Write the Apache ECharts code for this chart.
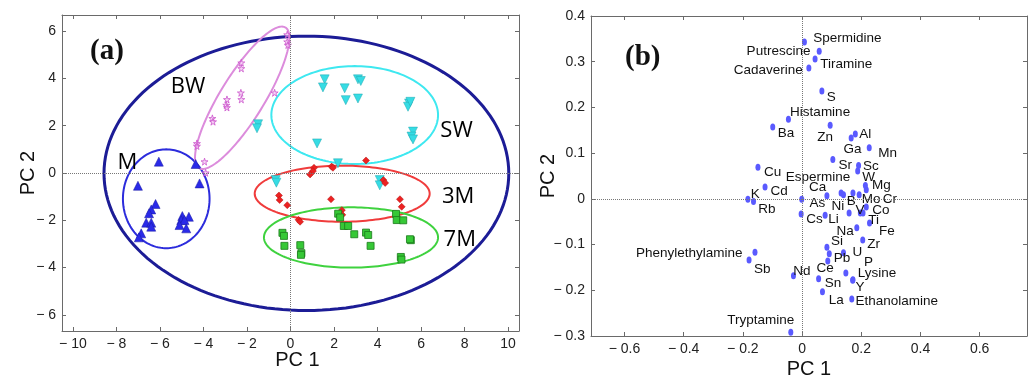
<!DOCTYPE html>
<html>
<head>
<meta charset="utf-8">
<script src="https://cdn.jsdelivr.net/npm/echarts@6/dist/echarts.min.js"></script>
<style>
html, body { margin: 0; padding: 0; background: #fff; }
#main { width: 1031px; height: 378px; }
</style>
</head>
<body>
<div id="main"></div>
<script>
// panel (a) - scores, [PC1, PC2]
var scoresM = [[-6.05,0.48],[-4.36,0.38],[-7.01,-0.54],[-4.18,-0.44],[-6.2,-1.31],[-6.4,-1.54],[-6.5,-1.7],
  [-6.63,-2.1],[-6.4,-2.1],[-6.4,-2.27],[-6.86,-2.55],[-6.97,-2.72],[-4.97,-1.82],[-4.67,-1.85],[-5.02,-1.99],
  [-4.87,-1.99],[-5.1,-2.2],[-4.79,-2.34]];
var scoresBW = [[-0.15,5.85],[-0.15,5.55],[-0.12,5.41],[-2.26,4.66],[-2.26,4.42],[-2.28,3.39],[-2.26,3.11],
  [-2.92,3.11],[-2.95,2.87],[-2.92,2.77],[-3.59,2.31],[-3.56,2.17],[-0.73,3.39],[-4.3,1.25],[-4.3,1.14],
  [-3.95,0.48],[-3.9,0.01]];
var scoresSW = [[1.57,3.96],[1.49,3.62],[2.49,3.58],[2.54,3.08],[3.1,3.96],[3.23,3.89],[3.1,3.15],[5.45,2.94],
  [5.4,2.8],[5.51,3.01],[5.63,1.75],[5.56,1.54],[5.63,1.42],[1.22,1.25],[-1.49,2.06],[-1.54,1.89],[-0.68,-0.3],
  [-0.65,-0.41],[4.1,-0.3],[4.1,-0.52],[2.18,0.41]];
var scores3M = [[3.47,0.53],[1.08,0.22],[1.03,0.08],[0.9,-0.06],[1.89,0.27],[1.95,0.22],[4.27,-0.3],[4.35,-0.42],
  [-0.53,-0.95],[-0.5,-1.14],[-0.15,-1.36],[1.86,-1.11],[5.03,-1.11],[5.11,-1.43],[2.36,-1.57],[2.38,-1.77],
  [0.37,-1.98],[0.44,-2.06]];
var scores7M = [[2.19,-1.72],[2.28,-1.88],[2.45,-2.24],[2.65,-2.24],[2.93,-2.59],[3.47,-2.52],[3.57,-2.62],
  [3.68,-3.08],[4.85,-1.73],[4.88,-1.99],[5.18,-2.0],[5.53,-2.84],[5.49,-2.8],[5.07,-3.55],[5.1,-3.66],
  [-0.37,-2.53],[-0.3,-2.66],[-0.28,-3.08],[0.45,-3.05],[0.5,-3.39],[0.48,-3.46]];

// group ellipses: centre, first and second semi-axis vectors (data units)
var ellipseNames = ['all', 'M', 'BW', 'SW', '3M', '7M'];
var ellipseCx = [0.73, -5.71, -2.22, 2.95, 2.375, 2.78];
var ellipseCy = [-0.015, -1.09, 3.18, 2.45, -0.875, -2.725];
var ellipseU = [[9.3,0],[1.99,0],[1.99,2.97],[3.83,0],[4.02,0],[4.0,0]];
var ellipseV = [[0,5.8],[0,2.09],[0.86,-0.49],[0,2.07],[0,1.185],[0,1.275]];

var groupLabels = ['M', 'BW', 'SW', '3M', '7M'];
var groupLabelX = [-7.5, -4.71, 7.63, 7.7, 7.78];
var groupLabelY = [0.45, 3.65, 1.77, -1.0, -2.83];

var ticksA_x = [-10, -8, -6, -4, -2, 0, 2, 4, 6, 8, 10];
var ticksA_y = [-6, -4, -2, 0, 2, 4, 6];

// panel (b) - loadings
var loadNames = ['Spermidine','Putrescine','Tiramine','Cadaverine','S','Histamine','Ba','Zn','Al','Ga','Mn','Sr',
  'Sc','W','Cu','Espermine','Ca','Cd','K','Rb','As','Cs','Ni','B','Mo','Cr','Mg','V','Ti','Co','Fe','Li','Na','Zr',
  'Si','Pb','U','Ce','P','Lysine','Y','Sn','La','Ethanolamine','Nd','Phenylethylamine','Sb','Tryptamine',''];
var loadPC1 = [0.008,0.058,0.044,0.023,0.067,-0.046,-0.099,0.095,0.180,0.166,0.227,0.104,
  0.191,0.188,-0.149,0.132,0.084,-0.125,-0.183,-0.164,-0.001,-0.003,0.140,0.172,0.193,0.217,0.214,0.159,0.197,0.217,0.228,0.078,0.185,0.205,
  0.084,0.092,0.140,0.087,0.148,0.172,0.171,0.056,0.069,0.168,-0.029,-0.159,-0.179,-0.038,0.206];
var loadPC2 = [0.343,0.323,0.306,0.286,0.236,0.174,0.157,0.161,0.142,0.133,0.112,0.086,
  0.073,0.061,0.069,0.013,0.007,0.026,-0.001,-0.006,-0.001,-0.033,0.009,0.013,0.009,0.020,0.029,-0.031,-0.031,-0.018,-0.053,-0.036,-0.063,-0.090,
  -0.106,-0.120,-0.118,-0.136,-0.162,-0.177,-0.178,-0.175,-0.203,-0.219,-0.168,-0.117,-0.134,-0.292,-0.031];
// where each name sits relative to its dot (px)
var labelDx = [43,-40.7,31.3,-40.7,9.3,31.7,13.3,-5,10,1.3,18.3,12.3,
  12.3,11,14.7,-23,-9.3,14,7.3,13.3,15.7,13.3,-5.7,-1.7,12,23.7,16,11,13.3,14.7,17.3,8.3,-11.7,11,
  10,12.7,14,-2.7,22.7,24,7.3,14.3,13.7,45,8.3,-65.7,13.3,-30,0];
var labelDy = [-4,0,5,2.3,6,-7,6,12,0.7,11.3,6,5.3,
  0.7,6,5,-15.7,-8,4,-4.7,8,4.3,5.7,11.3,8.7,4.7,9.3,-0.7,-3,7.7,3.3,7.7,4,3.3,4.7,
  -6,4.3,-0.7,7.7,-10.7,-6.3,7,4.3,8.3,2.3,-4.3,0.7,9,-11.7,0];

var ticksB_x = [-0.6, -0.4, -0.2, 0, 0.2, 0.4, 0.6];
var ticksB_y = [-0.3, -0.2, -0.1, 0, 0.1, 0.2, 0.3, 0.4];

var ellipseColors = ['#1c1c96', '#2c2cdc', '#dc8cdc', '#3ee8f0', '#f03c3c', '#3fd23f'];
var ellipseWidths = [3, 2, 2, 2, 2, 2];
var starPath = 'path://M50,0 L61,35 L98,35 L68,57 L79,91 L50,70 L21,91 L32,57 L2,35 L39,35 Z';
var sans = '"Liberation Sans", Arial, sans-serif';

function tickFmt(v) {
  v = Math.round(v * 10) / 10;
  return v < 0 ? '\u2212 ' + (-v) : String(v);
}

function renderEllipse(params, api) {
  var cx = api.value(0), cy = api.value(1);
  var ux = api.value(2), uy = api.value(3), vx = api.value(4), vy = api.value(5);
  var pts = [];
  for (var k = 0; k <= 160; k++) {
    var t = k / 160 * Math.PI * 2;
    pts.push(api.coord([cx + ux * Math.cos(t) + vx * Math.sin(t), cy + uy * Math.cos(t) + vy * Math.sin(t)]));
  }
  return {
    type: 'polyline',
    shape: { points: pts },
    style: { stroke: ellipseColors[params.dataIndex], lineWidth: ellipseWidths[params.dataIndex], fill: null }
  };
}

function valueAxis(grid, pos, min, max, ticks, show, extra) {
  var ax = {
    type: 'value', gridIndex: grid, position: pos, min: min, max: max,
    nameMoveOverlap: false,
    axisLine: { show: true, onZero: false, lineStyle: { color: '#6a6a6a', width: 1 } },
    axisTick: { show: true, inside: true, length: 4, customValues: ticks, lineStyle: { color: '#6a6a6a' } },
    axisLabel: { show: show, customValues: ticks, formatter: tickFmt, fontSize: 14, color: '#222',
      fontFamily: sans, margin: 6 },
    splitLine: { show: false }
  };
  for (var key in extra) ax[key] = extra[key];
  return ax;
}

var nameStyle = { fontSize: 20, color: '#111', fontFamily: sans };

var ellipseData = [];
for (var i = 0; i < ellipseNames.length; i++) {
  ellipseData.push([ellipseCx[i], ellipseCy[i], ellipseU[i][0], ellipseU[i][1], ellipseV[i][0], ellipseV[i][1]]);
}
var groupLabelData = groupLabels.map(function (g, i) {
  return { name: g, value: [groupLabelX[i], groupLabelY[i]] };
});
var loadData = loadNames.map(function (n, i) {
  return { name: n, value: [loadPC1[i], loadPC2[i]], label: { offset: [labelDx[i], labelDy[i]] } };
});

var zeroLines = {
  silent: true, symbol: ['none', 'none'], animation: false,
  label: { show: false },
  lineStyle: { type: 'dotted', color: '#777', width: 1 },
  data: [{ xAxis: 0 }, { yAxis: 0 }]
};

var option = {
  animation: false,
  backgroundColor: '#fff',
  grid: [
    { left: 62, top: 15, width: 457, height: 316, outerBoundsMode: 'none' },
    { left: 591, top: 16, width: 436, height: 320, outerBoundsMode: 'none' }
  ],
  xAxis: [
    valueAxis(0, 'bottom', -10.5, 10.5, ticksA_x, true,
      { name: 'PC 1', nameLocation: 'middle', nameGap: 19,
        nameTextStyle: { fontSize: 20, color: '#111', fontFamily: sans, padding: [0, 0, 0, 14] } }),
    valueAxis(0, 'top', -10.5, 10.5, ticksA_x, false, {}),
    valueAxis(1, 'bottom', -0.713, 0.76, ticksB_x, true,
      { name: 'PC 1', nameLocation: 'middle', nameGap: 23, nameTextStyle: nameStyle }),
    valueAxis(1, 'top', -0.713, 0.76, ticksB_x, false, {})
  ],
  yAxis: [
    valueAxis(0, 'left', -6.68, 6.68, ticksA_y, true,
      { name: 'PC 2', nameLocation: 'middle', nameGap: 24, nameTextStyle: nameStyle }),
    valueAxis(0, 'right', -6.68, 6.68, ticksA_y, false, {}),
    valueAxis(1, 'left', -0.3, 0.4, ticksB_y, true,
      { name: 'PC 2', nameLocation: 'middle', nameGap: 33, nameTextStyle: nameStyle }),
    valueAxis(1, 'right', -0.3, 0.4, ticksB_y, false, {})
  ],
  graphic: [
    { type: 'text', left: 90, top: 37, style: { text: '(a)', font: 'bold 29px "Liberation Serif", serif', fill: '#111' } },
    { type: 'text', left: 625, top: 43, style: { text: '(b)', font: 'bold 29px "Liberation Serif", serif', fill: '#111' } }
  ],
  series: [
    { type: 'custom', xAxisIndex: 0, yAxisIndex: 0, z: 1, renderItem: renderEllipse, data: ellipseData,
      markLine: zeroLines },
    { type: 'scatter', xAxisIndex: 0, yAxisIndex: 0, z: 3, data: scoresM, symbol: 'triangle', symbolSize: 9,
      itemStyle: { color: '#2a2ae8', borderColor: '#1818a0', borderWidth: 0.5, opacity: 1 } },
    { type: 'scatter', xAxisIndex: 0, yAxisIndex: 0, z: 3, data: scoresBW, symbol: starPath, symbolSize: 7,
      itemStyle: { color: 'rgba(240,180,240,0.6)', borderColor: '#cc55cc', borderWidth: 0.8, opacity: 1 } },
    { type: 'scatter', xAxisIndex: 0, yAxisIndex: 0, z: 3, data: scoresSW, symbol: 'triangle', symbolRotate: 180,
      symbolSize: 9, itemStyle: { color: '#36dce4', borderColor: '#20a8b0', borderWidth: 0.5, opacity: 1 } },
    { type: 'scatter', xAxisIndex: 0, yAxisIndex: 0, z: 3, data: scores3M, symbol: 'diamond', symbolSize: 7,
      itemStyle: { color: '#ec2222', borderColor: '#b01010', borderWidth: 0.5, opacity: 1 } },
    { type: 'scatter', xAxisIndex: 0, yAxisIndex: 0, z: 3, data: scores7M, symbol: 'rect', symbolSize: 7,
      itemStyle: { color: '#36c836', borderColor: '#1a7a1a', borderWidth: 0.8, opacity: 1 } },
    { type: 'scatter', xAxisIndex: 0, yAxisIndex: 0, z: 4, data: groupLabelData, symbolSize: 1, silent: true,
      itemStyle: { color: 'rgba(0,0,0,0)', opacity: 1 },
      label: { show: true, position: 'inside', formatter: '{b}', fontSize: 22, color: '#000', opacity: 1,
        fontFamily: '"Open Sans", sans-serif', textBorderWidth: 0 } },
    { type: 'scatter', xAxisIndex: 2, yAxisIndex: 2, z: 3, data: loadData, symbol: 'circle', symbolSize: [5, 7],
      itemStyle: { color: '#5a5aff', opacity: 1 },
      label: { show: true, position: 'inside', formatter: '{b}', fontSize: 13.5, color: '#111',
        fontFamily: sans, textBorderWidth: 0 },
      markLine: zeroLines }
  ]
};

var chart = echarts.init(document.getElementById('main'));
chart.setOption(option);
</script>
</body>
</html>
